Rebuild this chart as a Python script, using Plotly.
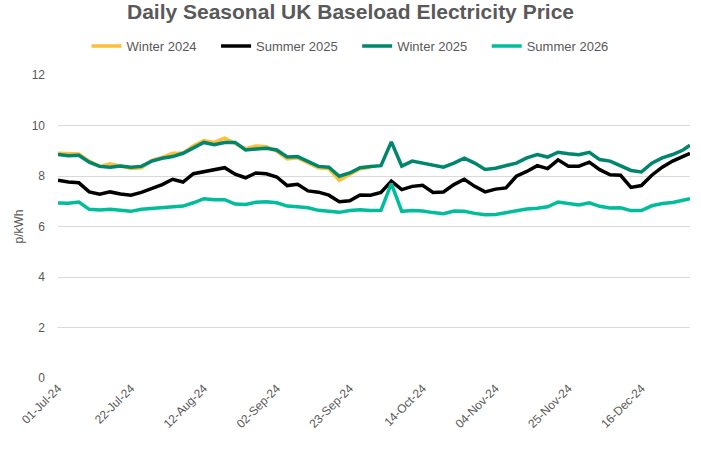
import pandas as pd
import plotly.graph_objects as go

# ---- data (p/kWh), sampled every 3 days from 01-Jul-24, last point 30-Dec-24 ----
dates = list(pd.date_range("2024-07-01", periods=61, freq="3D")) + [pd.Timestamp("2024-12-30")]

winter_2024 = [8.90, 8.90, 8.87, 8.59, 8.38, 8.48, 8.40, 8.30, 8.33, 8.62, 8.74,
               8.90, 8.90, 9.20, 9.40, 9.33, 9.50, 9.27, 9.08, 9.19, 9.16,
               8.98, 8.68, 8.72, 8.52, 8.33, 8.29, 7.83, 8.06, 8.29, 8.35]

summer_2025 = [7.83, 7.76, 7.73, 7.37, 7.28, 7.37, 7.29, 7.24, 7.35, 7.49, 7.66,
               7.87, 7.76, 8.09, 8.17, 8.24, 8.33, 8.07, 7.93, 8.12, 8.09,
               7.96, 7.62, 7.67, 7.41, 7.36, 7.24, 6.98, 7.02, 7.25, 7.24,
               7.35, 7.80, 7.46, 7.59, 7.63, 7.35, 7.37, 7.66, 7.87, 7.59,
               7.37, 7.48, 7.53, 7.99, 8.18, 8.41, 8.29, 8.64, 8.39, 8.39,
               8.55, 8.25, 8.05, 8.03, 7.55, 7.62, 8.03, 8.35, 8.59, 8.78,
               8.90]

winter_2025 = [8.85, 8.80, 8.82, 8.55, 8.38, 8.35, 8.40, 8.35, 8.38, 8.59, 8.70,
               8.77, 8.90, 9.11, 9.33, 9.24, 9.33, 9.33, 9.03, 9.07, 9.10,
               9.03, 8.75, 8.77, 8.58, 8.38, 8.35, 7.99, 8.12, 8.33, 8.38,
               8.41, 9.35, 8.39, 8.59, 8.51, 8.42, 8.35, 8.51, 8.71, 8.51,
               8.26, 8.31, 8.42, 8.51, 8.72, 8.85, 8.75, 8.94, 8.88, 8.84,
               8.94, 8.65, 8.59, 8.42, 8.22, 8.16, 8.51, 8.72, 8.85, 9.03,
               9.22]

summer_2026 = [6.93, 6.92, 6.97, 6.68, 6.65, 6.68, 6.64, 6.60, 6.68, 6.71, 6.72,
               6.76, 6.81, 6.94, 7.10, 7.06, 7.06, 6.89, 6.87, 6.96, 6.98,
               6.94, 6.81, 6.78, 6.74, 6.64, 6.59, 6.56, 6.63, 6.66, 6.63,
               6.64, 7.70, 6.60, 6.63, 6.61, 6.55, 6.51, 6.61, 6.60, 6.52,
               6.47, 6.48, 6.56, 6.63, 6.69, 6.72, 6.78, 6.97, 6.91, 6.85,
               6.94, 6.80, 6.73, 6.74, 6.63, 6.63, 6.82, 6.91, 6.95, 7.06,
               7.10]

tick_dates = pd.date_range("2024-07-01", "2024-12-16", freq="21D")
tick_labels = [d.strftime("%d-%b-%y") for d in tick_dates]

series = [
    ("Winter 2024", dates[:len(winter_2024)], winter_2024, "#FBBF3A"),
    ("Summer 2025", dates, summer_2025, "#000000"),
    ("Winter 2025", dates, winter_2025, "#00866C"),
    ("Summer 2026", dates, summer_2026, "#00BE9B"),
]

FONT = "Liberation Sans, Arial, sans-serif"
GREY = "#595959"
PAD = "\u00a0" * 4  # extra gap after each legend entry

fig = go.Figure()
for name, x, y, col in series:
    fig.add_trace(go.Scatter(x=x, y=y, name=name + PAD, mode="lines",
                             line=dict(color=col, width=3.5)))

fig.update_layout(
    width=701, height=449,
    margin=dict(l=58, r=11, t=75, b=71, autoexpand=False),
    paper_bgcolor="white", plot_bgcolor="white",
    font=dict(family=FONT, color=GREY, size=12),
    title=dict(text="<b>Daily Seasonal UK Baseload Electricity Price</b>",
               x=0.5, xanchor="center", y=1 - 12 / 449, yanchor="middle",
               yref="container", font=dict(size=21, color=GREY, family=FONT)),
    legend=dict(orientation="h", x=0.5 + 7 / 701, xanchor="center", xref="container",
                y=1 - 46 / 449, yanchor="middle", yref="container",
                font=dict(size=13, color=GREY), itemwidth=30,
                tracegroupgap=0),
    showlegend=True,
)
fig.update_xaxes(
    type="date", range=["2024-07-01", "2024-12-30"],
    tickvals=tick_dates, ticktext=tick_labels, tickangle=-45,
    showgrid=False, showline=False, zeroline=False, ticks="",
    tickfont=dict(size=12, color=GREY), automargin=False,
)
fig.update_yaxes(
    range=[0, 12], dtick=2, tick0=0,
    showgrid=True, gridcolor="#D9D9D9", gridwidth=1,
    zeroline=False, showline=False, ticks="",
    ticklabelstandoff=12, automargin=False,
    tickfont=dict(size=12, color=GREY),
    title=dict(text="p/kWh", font=dict(size=12, color=GREY), standoff=5),
)

fig.write_html("out.html", config={"displayModeBar": False},
               post_script="document.body.style.margin='0px';")
